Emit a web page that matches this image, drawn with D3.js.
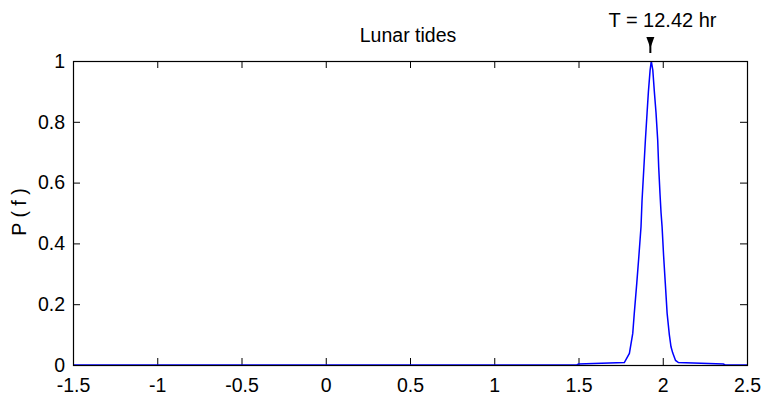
<!DOCTYPE html>
<html>
<head>
<meta charset="utf-8">
<script src="https://cdn.jsdelivr.net/npm/d3@7"></script>
<style>
  body { margin: 0; background: #fff; }
  text { font-family: "Liberation Sans", Arial, sans-serif; fill: #000; }
</style>
</head>
<body>
<div class="container"></div>
<script>
// frequency (cycles/day) and normalised power
var freq  = [-1.5, 1.49, 1.50, 1.772, 1.802, 1.822, 1.831, 1.846, 1.858, 1.871, 1.877, 1.887, 1.897, 1.907, 1.915, 1.925, 1.932,
             1.941, 1.950, 1.960, 1.970, 1.976, 1.984, 1.990, 1.996, 2.005, 2.015, 2.026, 2.039, 2.049, 2.059, 2.076, 2.093, 2.36, 2.37, 2.5];
var power = [0, 0, 0.003, 0.008, 0.038, 0.104, 0.17, 0.27, 0.356, 0.455, 0.54, 0.64, 0.74, 0.83, 0.90, 0.97, 1.0,
             0.97, 0.90, 0.83, 0.74, 0.65, 0.56, 0.50, 0.455, 0.36, 0.27, 0.17, 0.10, 0.06, 0.04, 0.015, 0.008, 0.003, 0, 0];

var xTicks = [-1.5, -1, -0.5, 0, 0.5, 1, 1.5, 2, 2.5];
var yTicks = [0, 0.2, 0.4, 0.6, 0.8, 1];

var title = 'Lunar tides';
var yLabel = 'P ( f )';
var peakLabel = 'T = 12.42 hr';
var peakFreq = 24 / 12.42;

var width = 762, height = 398;
var m = {left: 73, right: 747, top: 61, bottom: 365};
var fontSize = 19.5;

var translate = (x, y) => `translate(${ x },${ y })`;

var x = d3.scaleLinear().domain([-1.5, 2.5]).range([m.left, m.right]);
var y = d3.scaleLinear().domain([0, 1]).range([m.bottom, m.top]);

var svg = d3.select('.container').append('svg')
    .attr('width', width)
    .attr('height', height);

svg.append('rect')
    .attr('width', width)
    .attr('height', height)
    .attr('fill', '#fff');

var fmt = d => String(d);

var styleAxis = (g) => {
    g.select('.domain').remove();
    g.selectAll('line').attr('stroke', '#000');
    g.selectAll('text').attr('font-size', fontSize).attr('font-family', '"Liberation Sans", Arial, sans-serif');
}

// bottom + top, left + right (ticks inward like matlab)
svg.append('g')
    .attr('transform', translate(0, m.bottom))
    .call(d3.axisBottom(x).tickValues(xTicks).tickFormat(fmt).tickSizeInner(-7).tickPadding(13))
    .call(styleAxis);

svg.append('g')
    .attr('transform', translate(0, m.top))
    .call(d3.axisTop(x).tickValues(xTicks).tickFormat('').tickSizeInner(-7))
    .call(styleAxis);

svg.append('g')
    .attr('transform', translate(m.left, 0))
    .call(d3.axisLeft(y).tickValues(yTicks).tickFormat(fmt).tickSizeInner(-7).tickPadding(8))
    .call(styleAxis);

svg.append('g')
    .attr('transform', translate(m.right, 0))
    .call(d3.axisRight(y).tickValues(yTicks).tickFormat('').tickSizeInner(-7))
    .call(styleAxis);

var line = d3.line()
    .x((d, i) => x(freq[i]))
    .y((d, i) => y(power[i]));

svg.append('path')
    .attr('d', line(power))
    .attr('fill', 'none')
    .attr('stroke', '#0000ff')
    .attr('stroke-width', 1.5);

svg.append('rect')
    .attr('x', m.left + 0.5)
    .attr('y', m.top + 0.5)
    .attr('width', m.right - m.left)
    .attr('height', m.bottom - m.top)
    .attr('fill', 'none')
    .attr('stroke', '#000')
    .attr('stroke-width', 1.2);

// peak marker
var px = x(peakFreq) - 1;
svg.append('path')
    .attr('d', `M${px - 4},37 L${px + 4},37 L${px},48 Z`)
    .attr('fill', '#000');
svg.append('line')
    .attr('x1', px).attr('x2', px)
    .attr('y1', 38).attr('y2', 53)
    .attr('stroke', '#000')
    .attr('stroke-width', 2);

svg.append('text')
    .attr('x', 662.5)
    .attr('y', 27)
    .attr('text-anchor', 'middle')
    .attr('font-size', 20)
    .text(peakLabel);

svg.append('text')
    .attr('x', 408)
    .attr('y', 42)
    .attr('text-anchor', 'middle')
    .attr('font-size', fontSize)
    .text(title);

svg.append('text')
    .attr('transform', translate(26, 212) + ' rotate(-90)')
    .attr('text-anchor', 'middle')
    .attr('font-size', fontSize)
    .text(yLabel);
</script>
</body>
</html>
